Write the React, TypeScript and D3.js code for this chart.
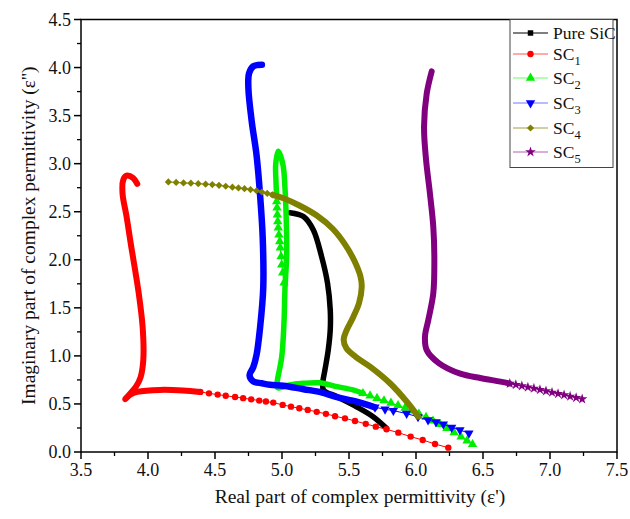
import React from "react";
import * as d3 from "d3";

type P = [number, number];

// ---- axes ----
const xMajorTicks = [3.5, 4.0, 4.5, 5.0, 5.5, 6.0, 6.5, 7.0, 7.5];
const yMajorTicks = [0.0, 0.5, 1.0, 1.5, 2.0, 2.5, 3.0, 3.5, 4.0, 4.5];
const xTitle = "Real part of complex permittivity (ε')";
const yTitle = "Imaginary part of complex permittivity (ε'')";

// ---- legend ----
const legendBase = ["Pure SiC", "SC", "SC", "SC", "SC", "SC"];
const legendSub = ["", "1", "2", "3", "4", "5"];
const seriesColors = ["#000000", "#ff0000", "#00ee00", "#0000ff", "#808000", "#800080"];
const legendLineColors = ["#000000", "#ff5555", "#66ff66", "#7777ff", "#a0a040", "#b060b0"];

// ---- data: dense portions (overlapping markers) ----
const pureSiCDense: P[] = [[5.06,2.49],[5.16,2.45],[5.234,2.31],[5.296,2.03],[5.34,1.755],[5.36,1.48],[5.36,1.27],[5.345,1.06],[5.32,0.85],[5.304,0.715],[5.31,0.645],[5.41,0.575],[5.557,0.47],[5.68,0.367],[5.78,0.246]];

const sc1Dense: P[] = [[3.92,2.79],[3.89,2.85],[3.84,2.875],[3.815,2.83],[3.81,2.69],[3.84,2.45],[3.87,2.18],[3.93,1.66],[3.96,1.30],[3.965,0.96],[3.945,0.78],[3.91,0.68],[3.83,0.55],[3.87,0.60],[3.92,0.625],[4.09,0.646],[4.26,0.64],[4.39,0.625]];
const sc1Sparse: P[] = [[4.39,0.625],[4.455,0.61],[4.52,0.597],[4.58,0.585],[4.65,0.572],[4.71,0.56],[4.77,0.548],[4.83,0.535],[4.88,0.525],[4.935,0.514],[5.005,0.49],[5.067,0.472],[5.129,0.455],[5.192,0.438],[5.259,0.418],[5.328,0.397],[5.396,0.372],[5.47,0.35],[5.545,0.323],[5.625,0.293],[5.70,0.264],[5.78,0.236],[5.868,0.201],[5.96,0.16],[6.05,0.125],[6.142,0.083],[6.241,0.045]];

const sc2Dense: P[] = [[5.604,0.61],[5.53,0.646],[5.41,0.68],[5.28,0.72],[5.16,0.715],[5.05,0.695],[4.975,0.665],[4.962,0.68],[4.965,0.74],[4.998,0.99],[5.015,1.35],[5.022,1.69],[5.035,2.05],[5.032,2.4],[5.022,2.75],[5.007,2.99],[4.972,3.128],[4.953,2.99],[4.955,2.82],[4.96,2.66]];
const sc2SparseUpper: P[] = [[4.96,2.607],[4.963,2.542],[4.965,2.469],[4.968,2.399],[4.972,2.333],[4.977,2.26],[4.983,2.19],[4.987,2.125],[4.993,2.034],[4.998,1.948],[5.005,1.865],[5.015,1.76]];
const sc2SparseTail: P[] = [[5.604,0.61],[5.657,0.585],[5.709,0.56],[5.761,0.535],[5.813,0.51],[5.866,0.485],[5.918,0.458],[5.970,0.428],[6.022,0.397],[6.075,0.362],[6.127,0.324],[6.179,0.287],[6.231,0.247],[6.284,0.202],[6.336,0.157],[6.381,0.117],[6.422,0.08]];

const sc3Dense: P[] = [[4.85,4.03],[4.786,4.014],[4.754,3.94],[4.749,3.79],[4.774,3.44],[4.81,3.09],[4.836,2.68],[4.856,2.23],[4.86,1.705],[4.836,1.29],[4.81,1.01],[4.785,0.88],[4.758,0.80],[4.785,0.735],[4.85,0.715],[4.91,0.70],[5.01,0.69],[5.16,0.653],[5.28,0.625],[5.41,0.57],[5.557,0.524],[5.694,0.465]];
const sc3Sparse: P[] = [[5.694,0.465],[5.769,0.445],[5.831,0.43],[5.93,0.40],[6.015,0.365],[6.09,0.333],[6.149,0.312],[6.204,0.29],[6.266,0.255],[6.328,0.229],[6.395,0.195]];

const sc4Sparse: P[] = [[4.152,2.81],[4.21,2.805],[4.265,2.80],[4.32,2.797],[4.375,2.792],[4.43,2.787],[4.48,2.782],[4.53,2.775],[4.58,2.765],[4.63,2.755],[4.675,2.748],[4.72,2.74],[4.765,2.73],[4.81,2.718],[4.85,2.705],[4.89,2.69],[4.93,2.675]];
const sc4Dense: P[] = [[4.93,2.675],[5.01,2.64],[5.13,2.565],[5.26,2.46],[5.38,2.32],[5.47,2.16],[5.54,1.99],[5.585,1.83],[5.595,1.72],[5.575,1.55],[5.53,1.40],[5.48,1.26],[5.46,1.17],[5.48,1.08],[5.55,0.99],[5.657,0.888],[5.806,0.715],[5.93,0.525],[6.017,0.368]];

const sc5Dense: P[] = [[6.117,3.96],[6.08,3.73],[6.06,3.385],[6.075,3.04],[6.104,2.69],[6.129,2.345],[6.137,2.0],[6.129,1.65],[6.092,1.375],[6.067,1.2],[6.08,1.06],[6.17,0.925],[6.33,0.815],[6.48,0.77],[6.63,0.732],[6.70,0.712]];
const sc5Sparse: P[] = [[6.70,0.712],[6.745,0.70],[6.79,0.687],[6.835,0.674],[6.88,0.662],[6.925,0.648],[6.97,0.634],[7.015,0.62],[7.06,0.606],[7.105,0.593],[7.15,0.579],[7.195,0.565],[7.24,0.551]];

const W = 630, H = 519;
const x = d3.scaleLinear().domain([3.5, 7.5]).range([81, 617]);
const y = d3.scaleLinear().domain([0, 4.5]).range([452, 19.5]);

const band = d3.line<P>().x(d => x(d[0])).y(d => y(d[1])).curve(d3.curveCatmullRom.alpha(0.5));
const thin = d3.line<P>().x(d => x(d[0])).y(d => y(d[1]));

const symSquare = d3.symbol().type(d3.symbolSquare).size(30)()!;
const symCircle = d3.symbol().type(d3.symbolCircle).size(32)()!;
const symTri = d3.symbol().type(d3.symbolTriangle).size(38)()!;
const symDiamond = d3.symbol().type(d3.symbolSquare).size(26)()!;
const symStar = d3.symbol().type(d3.symbolStar).size(34)()!;

const symbols = [
  { d: symSquare, rot: 0 },
  { d: symCircle, rot: 0 },
  { d: symTri, rot: 0 },
  { d: symTri, rot: 180 },
  { d: symDiamond, rot: 45 },
  { d: symStar, rot: 0 },
];

const FONT = "Liberation Serif, Times New Roman, DejaVu Serif, serif";

function Marks({ pts, si }: { pts: P[]; si: number }) {
  const s = symbols[si];
  return (
    <g>
      <path d={thin(pts)!} fill="none" stroke={seriesColors[si]} strokeWidth={1} />
      {pts.map((p, i) => (
        <path key={i} d={s.d} fill={seriesColors[si]}
          transform={`translate(${x(p[0])},${y(p[1])}) rotate(${s.rot})`} />
      ))}
    </g>
  );
}

function Band({ pts, si, w }: { pts: P[]; si: number; w: number }) {
  return <path d={band(pts)!} fill="none" stroke={seriesColors[si]} strokeWidth={w}
    strokeLinecap="round" strokeLinejoin="round" />;
}

export default function App() {
  const xMinor = d3.range(3.75, 7.5, 0.5);
  const yMinor = d3.range(0.25, 4.5, 0.5);
  const legendY = [33, 54, 78, 103, 128, 152];
  return (
    <svg width={W} height={H} style={{ position: "absolute", left: 0, top: 0, background: "#fff", fontFamily: FONT }}>
      <rect x={0} y={0} width={W} height={H} fill="#fff" />
      {/* series */}
      <Band pts={pureSiCDense} si={0} w={5.5} />
      <Band pts={sc1Dense} si={1} w={6} />
      <Marks pts={sc1Sparse} si={1} />
      <Band pts={sc2Dense} si={2} w={5.5} />
      <Marks pts={sc2SparseUpper} si={2} />
      <Marks pts={sc2SparseTail} si={2} />
      <Band pts={sc3Dense} si={3} w={6.5} />
      <Marks pts={sc3Sparse} si={3} />
      <Marks pts={sc4Sparse} si={4} />
      <Band pts={sc4Dense} si={4} w={6} />
      <Band pts={sc5Dense} si={5} w={6} />
      <Marks pts={sc5Sparse} si={5} />

      {/* frame */}
      <rect x={x(3.5)} y={y(4.5)} width={x(7.5) - x(3.5)} height={y(0) - y(4.5)}
        fill="none" stroke="#000" strokeWidth={1.5} />
      {/* x ticks */}
      {xMajorTicks.map(t => (
        <g key={"xt" + t}>
          <line x1={x(t)} x2={x(t)} y1={y(0)} y2={y(0) + 7} stroke="#000" strokeWidth={1.5} />
          <text x={x(t)} y={y(0) + 24} textAnchor="middle" fontSize={18} fill="#111">{t.toFixed(1)}</text>
        </g>
      ))}
      {xMinor.map(t => (
        <line key={"xm" + t} x1={x(t)} x2={x(t)} y1={y(0)} y2={y(0) + 4} stroke="#000" strokeWidth={1.3} />
      ))}
      {/* y ticks */}
      {yMajorTicks.map(t => (
        <g key={"yt" + t}>
          <line x1={x(3.5) - 7} x2={x(3.5)} y1={y(t)} y2={y(t)} stroke="#000" strokeWidth={1.5} />
          <text x={x(3.5) - 10} y={y(t) + 6} textAnchor="end" fontSize={18} fill="#111">{t.toFixed(1)}</text>
        </g>
      ))}
      {yMinor.map(t => (
        <line key={"ym" + t} x1={x(3.5) - 4} x2={x(3.5)} y1={y(t)} y2={y(t)} stroke="#000" strokeWidth={1.3} />
      ))}
      {/* titles */}
      <text x={(x(3.5) + x(7.5)) / 2 + 11} y={503} textAnchor="middle" fontSize={19.5} fill="#111">{xTitle}</text>
      <text transform={`translate(35,${(y(0) + y(4.5)) / 2}) rotate(-90)`} textAnchor="middle" fontSize={19.5} fill="#111">{yTitle}</text>

      {/* legend */}
      <rect x={510} y={y(4.5)} width={103} height={148} fill="#fff" stroke="#444" strokeWidth={1} />
      {legendBase.map((name, i) => {
        const ly = legendY[i];
        const s = symbols[i];
        return (
          <g key={"lg" + i}>
            <line x1={513} x2={548} y1={ly} y2={ly} stroke={legendLineColors[i]} strokeWidth={1.2} />
            <path d={s.d} fill={seriesColors[i]} transform={`translate(530.5,${ly}) rotate(${s.rot})`} />
            <text x={553} y={ly + 5.5} fontSize={17.5} fill="#111">
              {name}
              {legendSub[i] && <tspan fontSize={12.5} dy={5}>{legendSub[i]}</tspan>}
            </text>
          </g>
        );
      })}
    </svg>
  );
}
